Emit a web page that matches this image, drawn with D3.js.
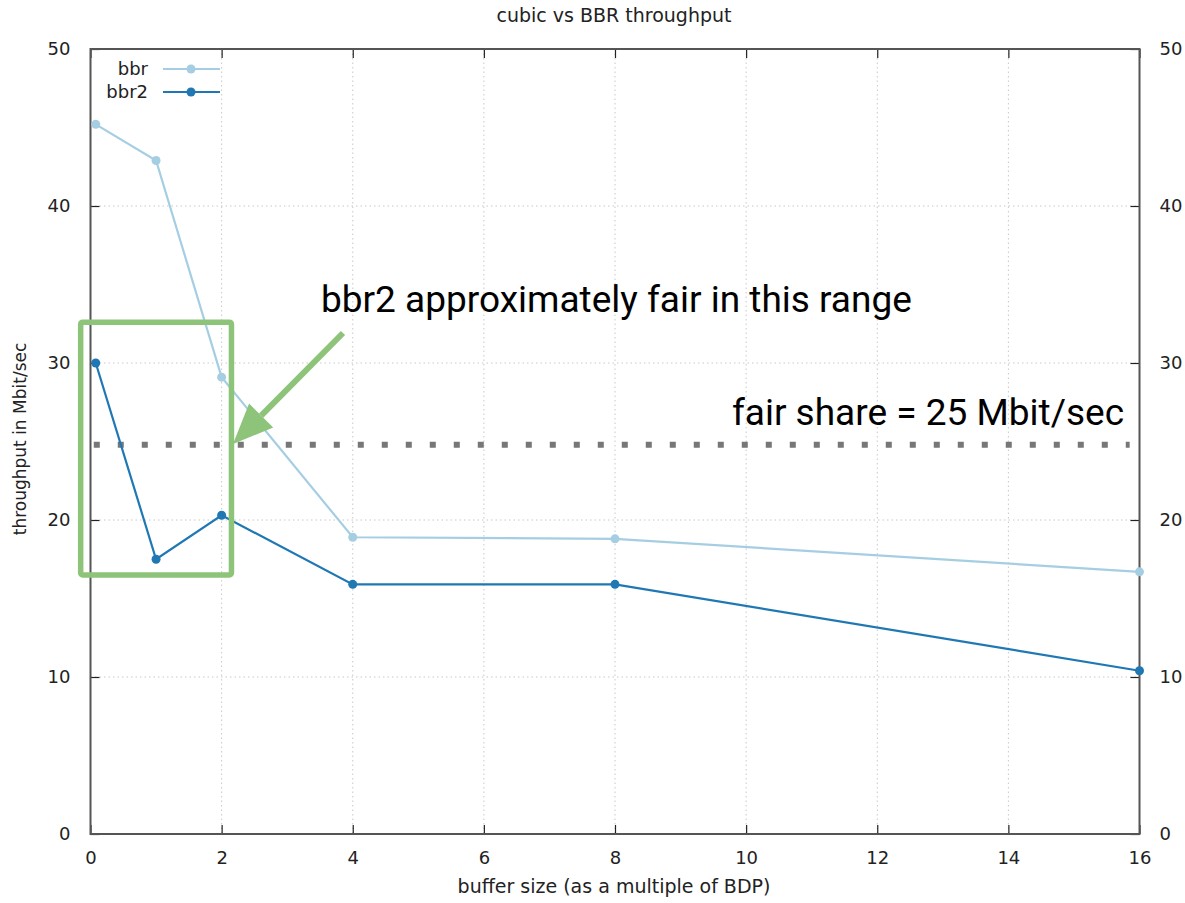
<!DOCTYPE html>
<html>
<head>
<meta charset="utf-8">
<script src="https://cdn.jsdelivr.net/npm/d3@7"></script>
<style>
  body { margin: 0; background: #fff; }
  text { font-family: "DejaVu Sans", sans-serif; fill: #222; }
  .note { font-family: Roboto, sans-serif; fill: #000; }
</style>
</head>
<body>
<svg id="chart" width="1185" height="903"></svg>
<script>
// buffer sizes (multiples of BDP)
var bufferSizes = [0.08, 1, 2, 4, 8, 16];
var bbrValues  = [45.2, 42.9, 29.1, 18.9, 18.8, 16.7];
var bbr2Values = [30.0, 17.5, 20.3, 15.9, 15.9, 10.4];
var xTicks = [0, 2, 4, 6, 8, 10, 12, 14, 16];
var yTicks = [0, 10, 20, 30, 40, 50];
var fairShare = 24.8;
var seriesNames = ["bbr", "bbr2"];
var seriesColors = ["#a6cee3", "#1f78b4"];

var svg = d3.select("#chart");
var plotLeft = 90.5, plotRight = 1139.5, plotTop = 49, plotBottom = 834;

var x = d3.scaleLinear().domain([0, 16]).range([plotLeft, plotRight]);
var y = d3.scaleLinear().domain([0, 50]).range([plotBottom, plotTop]);

// grid
var grid = svg.append("g").attr("stroke", "#c8c8c8").attr("stroke-width", 1).attr("stroke-dasharray", "1.5,3");
grid.selectAll("line.gx").data(xTicks.slice(1, -1)).enter().append("line")
    .attr("x1", function(d) { return x(d); }).attr("x2", function(d) { return x(d); })
    .attr("y1", plotTop).attr("y2", plotBottom);
grid.selectAll("line.gy").data(yTicks.slice(1, -1)).enter().append("line")
    .attr("y1", function(d) { return y(d); }).attr("y2", function(d) { return y(d); })
    .attr("x1", plotLeft).attr("x2", plotRight);

// axes (gnuplot style: ticks inward, mirrored)
var tickLen = 9;
svg.append("g").attr("transform", "translate(0," + plotBottom + ")")
    .call(d3.axisBottom(x).tickValues(xTicks).tickSize(-tickLen).tickPadding(tickLen + 8).tickSizeOuter(0))
    .call(function(g) { g.select(".domain").remove(); });
svg.append("g").attr("transform", "translate(0," + plotTop + ")")
    .call(d3.axisTop(x).tickValues(xTicks).tickSize(-tickLen).tickFormat("").tickSizeOuter(0))
    .call(function(g) { g.select(".domain").remove(); });
svg.append("g").attr("transform", "translate(" + plotLeft + ",0)")
    .call(d3.axisLeft(y).tickValues(yTicks).tickSize(-tickLen).tickPadding(tickLen + 11).tickSizeOuter(0))
    .call(function(g) { g.select(".domain").remove(); });
svg.append("g").attr("transform", "translate(" + plotRight + ",0)")
    .call(d3.axisRight(y).tickValues(yTicks).tickSize(-tickLen).tickPadding(tickLen + 11).tickSizeOuter(0))
    .call(function(g) { g.select(".domain").remove(); });
svg.selectAll(".tick line").attr("stroke", "#222").attr("stroke-width", 1.2);
svg.selectAll(".tick text").style("font-family", "DejaVu Sans, sans-serif").style("font-size", "18px").attr("fill", "#222");

svg.append("rect").attr("x", plotLeft).attr("y", plotTop)
    .attr("width", plotRight - plotLeft).attr("height", plotBottom - plotTop)
    .attr("fill", "none").attr("stroke", "#555").attr("stroke-width", 2);

// fair share line
svg.append("line")
    .attr("x1", x(0.05)).attr("x2", x(15.85))
    .attr("y1", y(fairShare)).attr("y2", y(fairShare))
    .attr("stroke", "#777").attr("stroke-width", 6).attr("stroke-dasharray", "6,18");

// series
var line = d3.line().x(function(d) { return x(d[0]); }).y(function(d) { return y(d[1]); });
[bbrValues, bbr2Values].forEach(function(vals, i) {
    var pts = bufferSizes.map(function(b, j) { return [b, vals[j]]; });
    svg.append("path").datum(pts).attr("d", line)
        .attr("fill", "none").attr("stroke", seriesColors[i]).attr("stroke-width", 2.2);
    svg.selectAll("circle.s" + i).data(pts).enter().append("circle")
        .attr("cx", function(d) { return x(d[0]); })
        .attr("cy", function(d) { return y(d[1]); })
        .attr("r", 4.5).attr("fill", seriesColors[i]);
});

// legend
seriesNames.forEach(function(n, i) {
    var ly = 69 + i * 23;
    svg.append("text").attr("x", 148).attr("y", ly + 6).attr("text-anchor", "end")
        .style("font-size", "18px").text(n);
    svg.append("line").attr("x1", 163).attr("x2", 220).attr("y1", ly).attr("y2", ly)
        .attr("stroke", seriesColors[i]).attr("stroke-width", 2.2);
    svg.append("circle").attr("cx", 191).attr("cy", ly).attr("r", 4.5).attr("fill", seriesColors[i]);
});

// titles
svg.append("text").attr("x", 614).attr("y", 22).attr("text-anchor", "middle")
    .style("font-size", "19px").text("cubic vs BBR throughput");
svg.append("text").attr("x", 614).attr("y", 893).attr("text-anchor", "middle")
    .style("font-size", "19px").text("buffer size (as a multiple of BDP)");
svg.append("text").attr("transform", "translate(26,439) rotate(-90)")
    .attr("text-anchor", "middle").style("font-size", "17px").text("throughput in Mbit/sec");

// annotations
var green = "#8dc47a";
svg.append("rect").attr("x", x(-0.15)).attr("y", y(32.6)).attr("width", x(2.15) - x(-0.15))
    .attr("height", y(16.5) - y(32.6)).attr("fill", "none")
    .attr("stroke", green).attr("stroke-width", 5.5).attr("rx", 2);

var ax1 = 343, ay1 = 333, ax2 = 233, ay2 = 444;
var ang = Math.atan2(ay2 - ay1, ax2 - ax1);
var headLen = 40, headW = 17;
var bx = ax2 - headLen * Math.cos(ang), by = ay2 - headLen * Math.sin(ang);
svg.append("line").attr("x1", ax1).attr("y1", ay1).attr("x2", bx).attr("y2", by)
    .attr("stroke", green).attr("stroke-width", 6);
svg.append("path").attr("fill", green).attr("d",
    "M" + ax2 + "," + ay2 +
    "L" + (bx + headW * Math.sin(ang)) + "," + (by - headW * Math.cos(ang)) +
    "L" + (bx - headW * Math.sin(ang)) + "," + (by + headW * Math.cos(ang)) + "Z");

svg.append("text").attr("class", "note").attr("x", 321).attr("y", 312)
    .style("font-size", "37px").text("bbr2 approximately fair in this range");
svg.append("text").attr("class", "note").attr("x", 1124).attr("y", 425).attr("text-anchor", "end")
    .style("font-size", "37px").text("fair share = 25 Mbit/sec");
</script>
</body>
</html>
